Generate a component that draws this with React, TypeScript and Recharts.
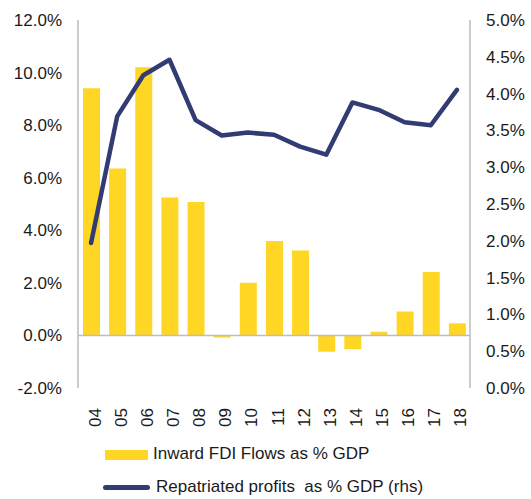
import React from 'react';
import {
  ComposedChart,
  Bar,
  Line,
  XAxis,
  YAxis,
  ReferenceLine,
} from 'recharts';

const years = ['04', '05', '06', '07', '08', '09', '10', '11', '12', '13', '14', '15', '16', '17', '18'];
const fdiFlows = [9.4, 6.35, 10.2, 5.25, 5.08, -0.08, 2.0, 3.59, 3.23, -0.62, -0.52, 0.14, 0.91, 2.41, 0.46];
const repatriated = [1.97, 3.69, 4.25, 4.46, 3.64, 3.43, 3.47, 3.44, 3.28, 3.17, 3.88, 3.78, 3.61, 3.57, 4.05];
const leftTicks = [-2, 0, 2, 4, 6, 8, 10, 12];
const rightTicks = [0, 0.5, 1, 1.5, 2, 2.5, 3, 3.5, 4, 4.5, 5];

const data = years.map((year, i) => ({
  year,
  fdi: fdiFlows[i],
  profits: repatriated[i],
}));

const FONT = '"Liberation Sans", Arial, sans-serif';
const YELLOW = '#FFD624';
const NAVY = '#323B72';
const AXIS_GREY = '#BDBDBD';

const pct = (v: number) => `${v.toFixed(1)}%`;

const YearTick = (props: any) => {
  const { x, y, payload } = props;
  return (
    <g transform={`translate(${x + 4},${y + 12}) rotate(-90)`}>
      <text
        x={0}
        y={0}
        textAnchor="end"
        dominantBaseline="central"
        fontSize={17}
        fontFamily={FONT}
        fill="#1a1a1a"
      >
        {payload.value}
      </text>
    </g>
  );
};

const ChartLegend = () => (
  <div style={{ position: 'absolute', left: 0, top: 440, width: 531, fontFamily: FONT, fontSize: 17, color: '#1a1a1a' }}>
    <div style={{ position: 'absolute', left: 105, top: 10, width: 43, height: 10, background: YELLOW }} />
    <div style={{ position: 'absolute', left: 153, top: 4, lineHeight: '20px', whiteSpace: 'nowrap' }}>
      Inward FDI Flows as % GDP
    </div>
    <div style={{ position: 'absolute', left: 103, top: 45, width: 47, height: 5, borderRadius: 3, background: NAVY }} />
    <div style={{ position: 'absolute', left: 156, top: 37, lineHeight: '20px', whiteSpace: 'pre' }}>
      Repatriated profits  as % GDP (rhs)
    </div>
  </div>
);

export default function App() {
  return (
    <div style={{ position: 'absolute', left: 0, top: 0, width: 531, height: 499, background: '#fff' }}>
      <ComposedChart
        width={531}
        height={430}
        data={data}
        margin={{ top: 20, right: 0, left: 0, bottom: 0 }}
        barCategoryGap="34%"
      >
        <XAxis
          dataKey="year"
          axisLine={false}
          tickLine={false}
          height={42}
          interval={0}
          tick={<YearTick />}
        />
        <YAxis
          yAxisId="left"
          orientation="left"
          width={78}
          domain={[-2, 12]}
          ticks={leftTicks}
          tickFormatter={pct}
          axisLine={{ stroke: AXIS_GREY, strokeWidth: 1.5 }}
          tickLine={false}
          tickSize={0}
          tickMargin={16}
          tick={{ fontSize: 17, fontFamily: FONT, fill: '#1a1a1a' }}
        />
        <YAxis
          yAxisId="right"
          orientation="right"
          width={61}
          domain={[0, 5]}
          ticks={rightTicks}
          tickFormatter={pct}
          axisLine={{ stroke: AXIS_GREY, strokeWidth: 1.5 }}
          tickLine={false}
          tickSize={0}
          tickMargin={16}
          tick={{ fontSize: 17, fontFamily: FONT, fill: '#1a1a1a', textAnchor: 'start' }}
        />
        <ReferenceLine yAxisId="left" y={0} stroke={AXIS_GREY} strokeWidth={1.5} />
        <Bar yAxisId="left" dataKey="fdi" fill={YELLOW} barSize={17} isAnimationActive={false} />
        <Line
          yAxisId="right"
          dataKey="profits"
          stroke={NAVY}
          strokeWidth={4.5}
          strokeLinecap="round"
          strokeLinejoin="round"
          dot={false}
          activeDot={false}
          type="linear"
          isAnimationActive={false}
        />
      </ComposedChart>
      <ChartLegend />
    </div>
  );
}
